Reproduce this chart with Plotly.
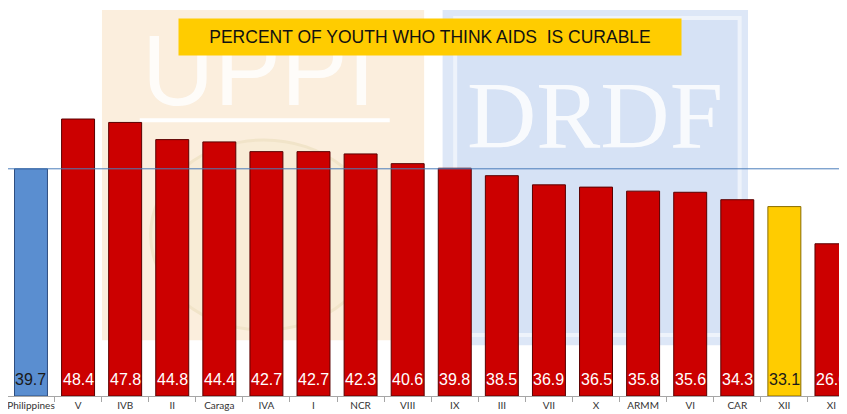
import plotly.graph_objects as go

# -------------------------------
# Data
# -------------------------------
regions = ["Philippines", "V", "IVB", "II", "Caraga", "IVA", "I", "NCR", "VIII",
           "IX", "III", "VII", "X", "ARMM", "VI", "CAR", "XII", "XI"]
percent_curable = [39.7, 48.4, 47.8, 44.8, 44.4, 42.7, 42.7, 42.3, 40.6,
                   39.8, 38.5, 36.9, 36.5, 35.8, 35.6, 34.3, 33.1, 26.6]
national_value = 39.7

RED, BLUE, YELLOW = "#cc0000", "#5a8ed0", "#ffcc00"


def bar_color(name):
    if name == "Philippines":
        return BLUE
    if name == "XII":
        return YELLOW
    return RED


def edge_color(name):
    if name == "Philippines":
        return "#2e4e80"
    if name == "XII":
        return "#8a6d00"
    return "#5a0000"


colors = [bar_color(r) for r in regions]
edges = [edge_color(r) for r in regions]

fig = go.Figure()
fig.add_trace(go.Bar(
    x=regions,
    y=percent_curable,
    marker=dict(color=colors, line=dict(color=edges, width=1)),
    hoverinfo="x+y",
))

# value labels at the base of each bar
for r, v in zip(regions, percent_curable):
    dark = r in ("Philippines", "XII")
    fig.add_annotation(
        x=r, y=0, yanchor="bottom", yshift=6, showarrow=False,
        text=f"{v:.1f}",
        font=dict(family="Liberation Sans, Arial", size=16,
                  color="#1a1a1a" if dark else "white"),
    )

# national reference line
fig.add_shape(type="line", xref="paper", yref="y", x0=0, x1=1,
              y0=national_value, y1=national_value,
              line=dict(color="#4a7ebb", width=1), layer="above")

# faint watermark logos behind the chart
fig.add_shape(type="rect", xref="paper", yref="paper", x0=0.112, x1=0.496,
              y0=0.144, y1=0.995, fillcolor="#fbeedd", line_width=0, layer="below")
fig.add_shape(type="line", xref="paper", yref="paper", x0=0.157, x1=0.455,
              y0=0.711, y1=0.711, line=dict(color="white", width=4), layer="below")
fig.add_shape(type="circle", xref="paper", yref="paper", x0=0.17, x1=0.44,
              y0=0.17, y1=0.66, fillcolor="#f8ecd6", line=dict(color="#f1e4c9", width=3),
              layer="below")
fig.add_shape(type="rect", xref="paper", yref="paper", x0=0.518, x1=0.882,
              y0=0.131, y1=0.995, fillcolor="#dde7f7", line_width=0, layer="below")
fig.add_shape(type="rect", xref="paper", yref="paper", x0=0.533, x1=0.872,
              y0=0.157, y1=0.974, fillcolor="#d6e2f5",
              line=dict(color="#eef3fb", width=4), layer="below")
fig.add_annotation(xref="paper", yref="paper", x=0.298, y=0.840,
                   xanchor="center", yanchor="middle", showarrow=False,
                   text="UPPI", font=dict(family="Liberation Sans, Arial", size=100, color="white"),
                   opacity=0.85)
fig.add_annotation(xref="paper", yref="paper", x=0.700, y=0.724,
                   xanchor="center", yanchor="middle", showarrow=False,
                   text="DRDF", font=dict(family="Liberation Serif", size=96, color="white"),
                   opacity=0.85)

# title box
fig.add_annotation(
    xref="paper", yref="paper", x=0.503, y=0.925,
    xanchor="center", yanchor="middle", showarrow=False,
    text="PERCENT OF YOUTH WHO THINK AIDS  IS CURABLE",
    font=dict(family="Liberation Sans, Arial", size=17.5, color="#111111"),
    bgcolor=YELLOW, width=500, height=34, borderpad=1,
)

# the page body adds an 8px offset, so the figure is sized to fit the window
fig.update_layout(
    width=839, height=406,
    margin=dict(l=0, r=0, t=0, b=18),
    paper_bgcolor="white", plot_bgcolor="rgba(0,0,0,0)",
    bargap=0.3, showlegend=False,
    font=dict(family="Open Sans, Arial", color="#404040"),
)
fig.update_xaxes(
    range=[-0.488, 17.33], showgrid=False, showline=True, linecolor="#a6a6a6",
    ticks="outside", tickson="boundaries", ticklen=5, tickcolor="#a6a6a6",
    tickangle=0, automargin=False,
    tickfont=dict(family="Lato, Open Sans, Arial", size=10, color="#333333"),
)
fig.update_yaxes(range=[0, 67.8], visible=False, automargin=False)

fig.write_html("out.html")
